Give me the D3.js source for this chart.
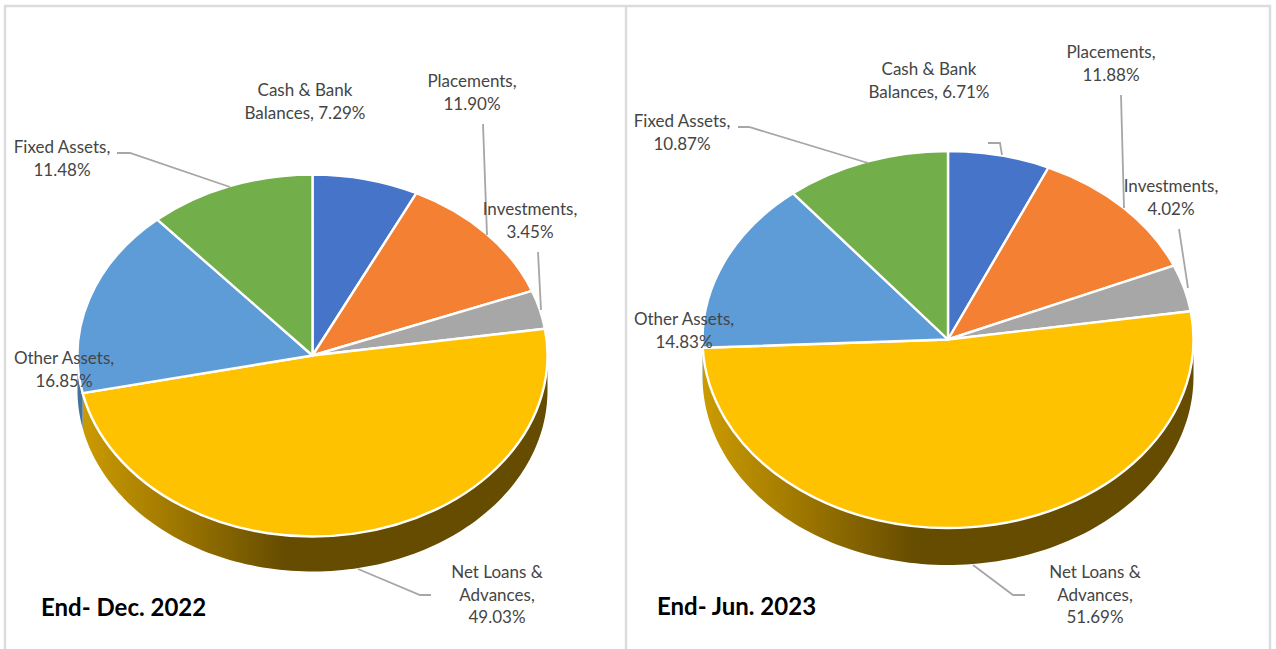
<!DOCTYPE html>
<html>
<head>
<meta charset="utf-8">
<script src="https://cdn.jsdelivr.net/npm/d3@7"></script>
<style>
html,body{margin:0;padding:0;background:#fff;overflow:hidden}
svg{display:block}
text{font-family:Lato,"Open Sans",sans-serif}
</style>
</head>
<body>
<svg id="chart" width="1276" height="649"></svg>
<script>
// ---- data ----
const categories = ["Cash & Bank Balances","Placements","Investments","Net Loans & Advances","Other Assets","Fixed Assets"];
const valuesDec2022 = [7.29,11.90,3.45,49.03,16.85,11.48];
const valuesJun2023 = [6.71,11.88,4.02,51.69,14.83,10.87];
const titleDec2022 = "End- Dec. 2022";
const titleJun2023 = "End- Jun. 2023";
const sliceColors = ["#4674c8","#f38033","#a7a7a7","#ffc200","#5e9cd8","#72ae4a"];
const labelLinesDec2022 = [["Cash & Bank","Balances, 7.29%"],["Placements,","11.90%"],["Investments,","3.45%"],["Net Loans &","Advances,","49.03%"],["Other Assets,","16.85%"],["Fixed Assets,","11.48%"]];
const labelLinesJun2023 = [["Cash & Bank","Balances, 6.71%"],["Placements,","11.88%"],["Investments,","4.02%"],["Net Loans &","Advances,","51.69%"],["Other Assets,","14.83%"],["Fixed Assets,","10.87%"]];

// ---- layout ----
const panelDec = {cx:312.5,cy:355.5,rx:235,ry:181,depth:35,gradFrom:82,gradTo:285,titleX:41,titleY:616,
  labelPos:[[305,96],[472,87],[530,215],[497,578],[64,364],[62,153]],
  leaders:[null,[[483,124],[487,235]],[[538,252],[541,310]],[[358,569],[420,595],[431,595]],null,[[117,153],[130,153],[230,187]]]};
const panelJun = {cx:948,cy:339.5,rx:245.5,ry:188.5,depth:37,gradFrom:703,gradTo:915,titleX:657,titleY:615,
  labelPos:[[929,75],[1111,58],[1171,192],[1095,578],[684,325],[682,127]],
  leaders:[[[988,143],[1000,143],[1002,155]],[[1121,95],[1124,208]],[[1179,229],[1188,288]],[[973,565],[1013,595],[1025,595]],null,[[738,127],[749,127],[868,163]]]};

const svg = d3.select("#chart");
const defs = svg.append("defs");

// panel borders
const borderColor = "#dcdcdc";
svg.append("path")
  .attr("d","M5 649V6H626V649M626 6H1270V649")
  .attr("fill","none").attr("stroke",borderColor).attr("stroke-width",2.4);

const pieLayout = d3.pie().sort(null).value(d=>d);
const HALF_PI = Math.PI/2;

function drawPanel(values, lines, title, p, id){
  const arcs = pieLayout(values);
  const g = svg.append("g");
  const px = a => p.cx + p.rx*Math.sin(a);
  const py = a => p.cy - p.ry*Math.cos(a);

  const grad = defs.append("linearGradient").attr("id","wall"+id)
    .attr("gradientUnits","userSpaceOnUse")
    .attr("x1",p.gradFrom).attr("x2",p.gradTo).attr("y1",0).attr("y2",0);
  grad.append("stop").attr("offset",0).attr("stop-color","#cb9b00");
  grad.append("stop").attr("offset",0.5).attr("stop-color","#9a7400");
  grad.append("stop").attr("offset",1).attr("stop-color","#664c00");

  const wall = d3.area().x(a=>px(a)).y0(a=>py(a)-1).y1(a=>py(a)+p.depth);
  // walls: only the front half of the rim is visible
  arcs.forEach((d,i)=>{
    const a0 = Math.max(d.startAngle,HALF_PI), a1 = Math.min(d.endAngle,3*HALF_PI);
    if(a1<=a0) return;
    const n = 120;
    const angles = d3.range(n+1).map(k=>a0+(a1-a0)*k/n);
    const fill = i===3 ? `url(#wall${id})` : d3.color(sliceColors[i]).darker(0.9).formatHex();
    g.append("path").attr("d",wall(angles)).attr("fill",fill);
  });

  // top face
  const arc = d3.arc().innerRadius(0).outerRadius(p.rx);
  g.append("g")
    .attr("transform",`translate(${p.cx},${p.cy}) scale(1,${p.ry/p.rx})`)
    .selectAll("path").data(arcs).join("path")
    .attr("d",arc)
    .attr("fill",(d,i)=>sliceColors[i])
    .attr("stroke","#fff").attr("stroke-width",2.4)
    .attr("stroke-linejoin","round")
    .attr("vector-effect","non-scaling-stroke");

  // leader lines
  const line = d3.line();
  p.leaders.forEach(pts=>{
    if(!pts) return;
    g.append("path").attr("d",line(pts)).attr("fill","none")
      .attr("stroke","#a6a6a6").attr("stroke-width",1.8);
  });

  // labels
  lines.forEach((ls,i)=>{
    const [x,y] = p.labelPos[i];
    const t = g.append("text").attr("text-anchor","middle")
      .attr("font-size",17).attr("fill","#454545");
    ls.forEach((s,k)=>t.append("tspan").attr("x",x).attr("y",y+k*22.7).text(s));
  });

  g.append("text").attr("x",p.titleX).attr("y",p.titleY)
    .attr("font-size",24).attr("font-weight",700).attr("fill","#000").text(title);
}

drawPanel(valuesDec2022,labelLinesDec2022,titleDec2022,panelDec,"A");
drawPanel(valuesJun2023,labelLinesJun2023,titleJun2023,panelJun,"B");
</script>
</body>
</html>
